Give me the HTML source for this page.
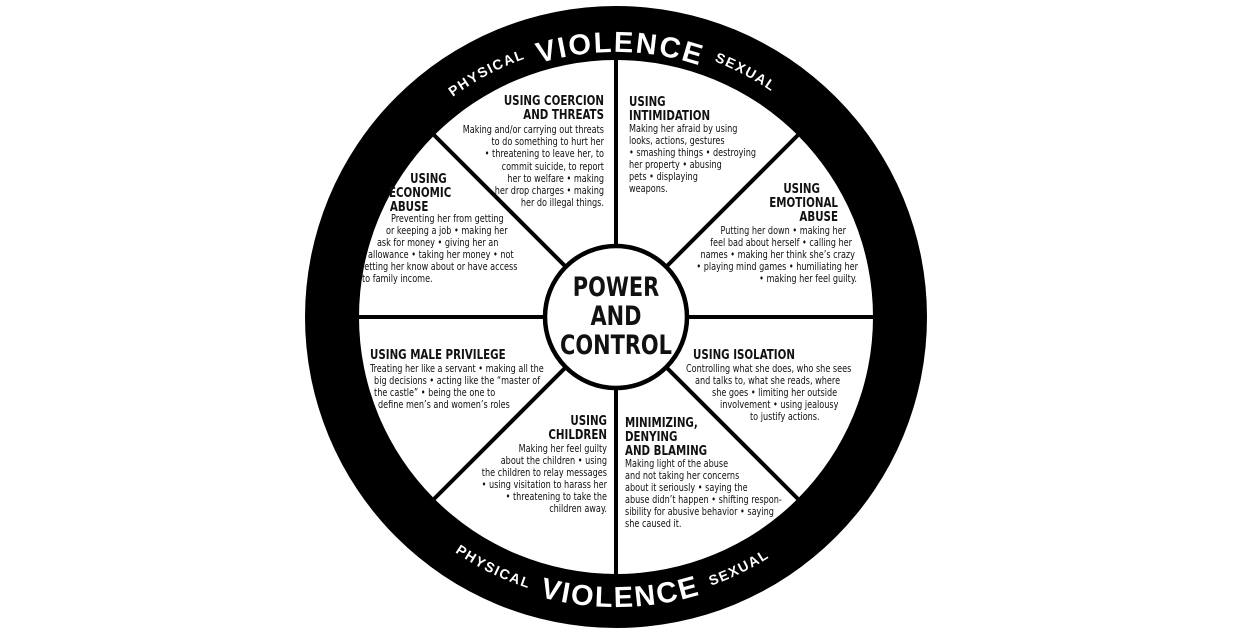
<!DOCTYPE html>
<html><head><meta charset="utf-8"><style>
html,body{margin:0;padding:0;background:#fff;}
svg{display:block;}
.b{font-family:"Liberation Sans Narrow","DejaVu Sans Condensed","Liberation Sans",sans-serif;font-size:10.5px;fill:#111;}
.t{font-family:"Liberation Sans Narrow","DejaVu Sans Condensed","Liberation Sans",sans-serif;font-size:13px;font-weight:bold;fill:#111;}
.c{font-family:"Liberation Sans Narrow","DejaVu Sans Condensed","Liberation Sans",sans-serif;font-size:27px;font-weight:bold;fill:#111;}
.rv{font-family:"Liberation Sans","DejaVu Sans",sans-serif;font-size:29px;font-weight:bold;fill:#fff;letter-spacing:2px;}
.rs{font-family:"Liberation Sans","DejaVu Sans",sans-serif;font-size:14px;font-weight:bold;fill:#fff;letter-spacing:1.5px;}
.r{text-anchor:end;}
</style></head><body>
<svg width="1240" height="640" viewBox="0 0 1240 640" xmlns="http://www.w3.org/2000/svg">
<defs>
<path id="tv" d="M351,317 A265,265 0 0 1 881,317"/>
<path id="ts" d="M342,317 A274,274 0 0 1 890,317"/>
<path id="bv" d="M326,317 A290,290 0 0 0 906,317"/>
<path id="bs" d="M331,317 A285,285 0 0 0 901,317"/>
</defs>
<circle cx="616" cy="317" r="311" fill="#000"/>
<circle cx="616" cy="317" r="257" fill="#fff"/>
<g stroke="#000" stroke-width="4">
<line x1="616" y1="60" x2="616" y2="574"/>
<line x1="359" y1="317" x2="873" y2="317"/>
<line x1="434" y1="135" x2="798" y2="499"/>
<line x1="798" y1="135" x2="434" y2="499"/>
</g>
<circle cx="616" cy="317" r="71" fill="#fff" stroke="#000" stroke-width="4.5"/>
<text class="c" text-anchor="middle" transform="translate(616,0) scale(0.86,1) translate(-616,0)"><tspan x="616" y="296">POWER</tspan><tspan x="616" y="325">AND</tspan><tspan x="616" y="354">CONTROL</tspan></text>

<text class="rv" text-anchor="middle"><textPath href="#tv" startOffset="50.5%">VIOLENCE</textPath></text>
<text class="rs" text-anchor="middle"><textPath href="#ts" startOffset="34.5%">PHYSICAL</textPath></text>
<text class="rs" text-anchor="middle"><textPath href="#ts" startOffset="65.5%">SEXUAL</textPath></text>
<text class="rv" text-anchor="middle"><textPath href="#bv" startOffset="50.5%">VIOLENCE</textPath></text>
<text class="rs" text-anchor="middle"><textPath href="#bs" startOffset="35.5%">PHYSICAL</textPath></text>
<text class="rs" text-anchor="middle"><textPath href="#bs" startOffset="64.5%">SEXUAL</textPath></text>

<!-- coercion -->
<text class="t r" transform="translate(604,0) scale(0.88,1) translate(-604,0)"><tspan x="604" y="105">USING COERCION</tspan><tspan x="604" y="119">AND THREATS</tspan></text>
<text class="b r" transform="translate(604,0) scale(0.86,1) translate(-604,0)"><tspan x="604" y="133">Making and/or carrying out threats</tspan><tspan x="604" y="145">to do something to hurt her</tspan><tspan x="604" y="157">• threatening to leave her, to</tspan><tspan x="604" y="170">commit suicide, to report</tspan><tspan x="604" y="182">her to welfare • making</tspan><tspan x="604" y="194">her drop charges • making</tspan><tspan x="604" y="206">her do illegal things.</tspan></text>
<!-- intimidation -->
<text class="t" transform="translate(629,0) scale(0.88,1) translate(-629,0)"><tspan x="629" y="106">USING</tspan><tspan x="629" y="120">INTIMIDATION</tspan></text>
<text class="b" transform="translate(629,0) scale(0.86,1) translate(-629,0)"><tspan x="629" y="132">Making her afraid by using</tspan><tspan x="629" y="144">looks, actions, gestures</tspan><tspan x="629" y="156">• smashing things • destroying</tspan><tspan x="629" y="168">her property • abusing</tspan><tspan x="629" y="180">pets • displaying</tspan><tspan x="629" y="192">weapons.</tspan></text>
<!-- economic -->
<text class="t" transform="translate(389,0) scale(0.88,1) translate(-389,0)"><tspan x="413" y="183">USING</tspan><tspan x="389" y="197">ECONOMIC</tspan><tspan x="390" y="211">ABUSE</tspan></text>
<text class="b" transform="translate(362,0) scale(0.86,1) translate(-362,0)"><tspan x="395.7" y="222">Preventing her from getting</tspan><tspan x="389.9" y="234">or keeping a job • making her</tspan><tspan x="379.4" y="246">ask for money • giving her an</tspan><tspan x="369" y="258">allowance • taking her money • not</tspan><tspan x="362" y="270">letting her know about or have access</tspan><tspan x="362" y="282">to family income.</tspan></text>
<!-- emotional -->
<text class="t r" transform="translate(838,0) scale(0.88,1) translate(-838,0)"><tspan x="817.5" y="193">USING</tspan><tspan x="838" y="207">EMOTIONAL</tspan><tspan x="838" y="221">ABUSE</tspan></text>
<text class="b r" transform="translate(858,0) scale(0.86,1) translate(-858,0)"><tspan x="844" y="234">Putting her down • making her</tspan><tspan x="851" y="246">feel bad about herself • calling her</tspan><tspan x="854.5" y="258">names • making her think she’s crazy</tspan><tspan x="858" y="270">• playing mind games • humiliating her</tspan><tspan x="856.8" y="282">• making her feel guilty.</tspan></text>
<!-- male privilege -->
<text class="t" transform="translate(370,0) scale(0.88,1) translate(-370,0)"><tspan x="370" y="359">USING MALE PRIVILEGE</tspan></text>
<text class="b" transform="translate(370,0) scale(0.86,1) translate(-370,0)"><tspan x="370" y="372">Treating her like a servant • making all the</tspan><tspan x="374.7" y="384">big decisions • acting like the “master of</tspan><tspan x="374.7" y="396">the castle”  • being the one to</tspan><tspan x="379.3" y="408">define men’s and women’s roles</tspan></text>
<!-- isolation -->
<text class="t" transform="translate(693,0) scale(0.88,1) translate(-693,0)"><tspan x="693" y="359">USING ISOLATION</tspan></text>
<text class="b" transform="translate(686,0) scale(0.86,1) translate(-686,0)"><tspan x="686" y="372">Controlling what she does, who she sees</tspan><tspan x="696.5" y="384">and talks to, what she reads, where</tspan><tspan x="716.2" y="396">she goes • limiting her outside</tspan><tspan x="725.5" y="408">involvement • using jealousy</tspan><tspan x="760.4" y="420">to justify actions.</tspan></text>
<!-- children -->
<text class="t r" transform="translate(607,0) scale(0.88,1) translate(-607,0)"><tspan x="607" y="425">USING</tspan><tspan x="607" y="439">CHILDREN</tspan></text>
<text class="b r" transform="translate(607,0) scale(0.86,1) translate(-607,0)"><tspan x="607" y="452">Making her feel guilty</tspan><tspan x="607" y="464">about the children • using</tspan><tspan x="607" y="476">the children to relay messages</tspan><tspan x="607" y="488">• using visitation to harass her</tspan><tspan x="607" y="500">• threatening to take the</tspan><tspan x="607" y="512">children away.</tspan></text>
<!-- minimizing -->
<text class="t" transform="translate(625,0) scale(0.88,1) translate(-625,0)"><tspan x="625" y="427">MINIMIZING,</tspan><tspan x="625" y="441">DENYING</tspan><tspan x="625" y="455">AND BLAMING</tspan></text>
<text class="b" transform="translate(625,0) scale(0.86,1) translate(-625,0)"><tspan x="625" y="467">Making light of the abuse</tspan><tspan x="625" y="479">and not taking her concerns</tspan><tspan x="625" y="491">about it seriously • saying the</tspan><tspan x="625" y="503">abuse didn’t happen • shifting respon-</tspan><tspan x="625" y="515">sibility for abusive behavior • saying</tspan><tspan x="625" y="527">she caused it.</tspan></text>
</svg>
</body></html>
